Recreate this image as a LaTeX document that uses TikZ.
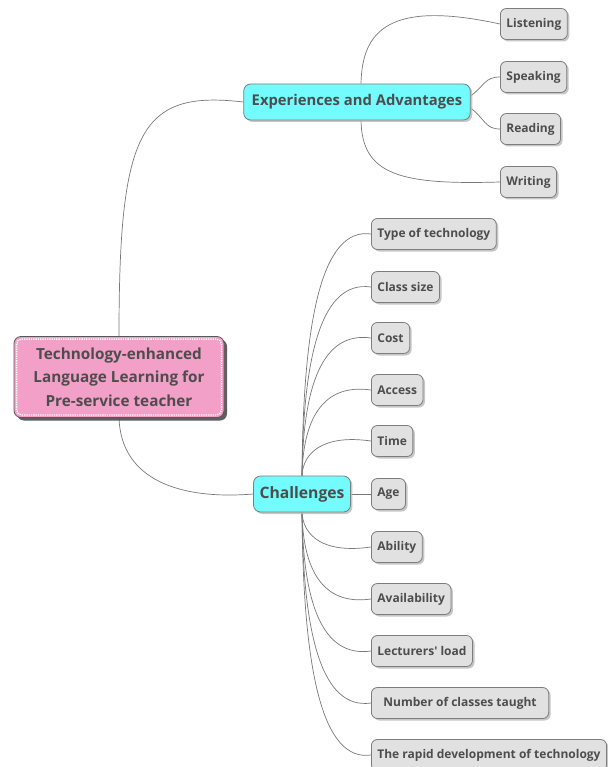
\documentclass[tikz,border=0pt]{standalone}
\usepackage{fontspec}
\setmainfont{Open Sans}[Ligatures=TeXOff]
\usetikzlibrary{shadows,backgrounds}
\definecolor{txt}{RGB}{77,77,77}
\definecolor{bord}{RGB}{125,125,125}
\definecolor{leaffill}{RGB}{225,225,225}
\definecolor{cyanfill}{RGB}{115,251,253}
\definecolor{pinkfill}{RGB}{242,160,200}
\definecolor{edgec}{RGB}{120,120,120}
\tikzset{
  leaf/.style={draw=bord, fill=leaffill, rounded corners=6pt, line width=0.8pt,
    minimum height=31pt, inner xsep=6pt, anchor=west, text=txt,
    font=\fontsize{12}{14}\selectfont\bfseries,
    drop shadow={shadow xshift=2pt, shadow yshift=-2pt, fill=gray!55, opacity=0.8}},
  topic/.style={draw=bord, fill=cyanfill, rounded corners=7pt, line width=0.8pt,
    minimum height=36pt, inner xsep=8pt, text=txt,
    drop shadow={shadow xshift=2pt, shadow yshift=-2pt, fill=gray!55, opacity=0.8}},
  rootst/.style={draw=bord!70!black, fill=pinkfill, rounded corners=7pt, line width=0.8pt,
    minimum width=210pt, minimum height=81pt, text=txt, align=center,
    font=\fontsize{15.3}{23.5}\selectfont\bfseries,
    drop shadow={shadow xshift=3pt, shadow yshift=-3pt, fill=black!70, opacity=0.9}},
  edge/.style={draw=edgec, line width=0.7pt}
}
\begin{document}
\begin{tikzpicture}[x=1pt,y=-1pt]
\useasboundingbox (0,0) rectangle (607,767);
\node[rootst] (root) at (119,377) {Technology-enhanced\\Language Learning for\\Pre-service teacher};
\draw[white, densely dotted, line width=1.3pt, rounded corners=5pt]
  ([shift={(3,3)}]root.north west) rectangle ([shift={(-3,-3)}]root.south east);
\node[topic, font=\fontsize{14.8}{17}\selectfont\bfseries] (exp) at (357,102) {Experiences and Advantages};
\node[topic, font=\fontsize{15.7}{18}\selectfont\bfseries, inner xsep=6pt] (chal) at (302,494) {Challenges};

\node[leaf] (l1) at (500,24) {Listening};
\node[leaf] (l2) at (500,77) {Speaking};
\node[leaf] (l3) at (500,129) {Reading};
\node[leaf] (l4) at (500,182) {Writing};

\node[leaf] (c1) at (371,234) {Type of technology};
\node[leaf] (c2) at (371,287) {Class size};
\node[leaf] (c3) at (371,338) {Cost};
\node[leaf] (c4) at (371,390) {Access};
\node[leaf] (c5) at (371,441) {Time};
\node[leaf] (c6) at (371,494) {Age};
\node[leaf] (c7) at (371,547) {Ability};
\node[leaf] (c8) at (371,599) {Availability};
\node[leaf] (c9) at (371,651) {Lecturers' load};
\node[leaf, inner xsep=12pt] (c10) at (371,703) {Number of classes taught};
\node[leaf] (c11) at (371,755) {The rapid development of technology};

\begin{scope}[on background layer]
\draw[edge] (root.north) .. controls (119,130) and (140,90) .. (exp.west);
\draw[edge] (root.south) .. controls (121,480) and (180,500) .. (chal.west);
\draw[edge] ([xshift=4pt]exp.north) .. controls (362,30) and (390,0) .. (l1.west);
\draw[edge] ([yshift=6pt]exp.east) .. controls (485,85) and (485,77) .. (l2.west);
\draw[edge] ([yshift=-6pt]exp.east) .. controls (485,119) and (485,129) .. (l3.west);
\draw[edge] ([xshift=4pt]exp.south) .. controls (362,175) and (400,185) .. (l4.west);
\foreach \n/\y in {c1/234,c2/287,c3/338,c4/390,c5/441}
  \draw[edge] (chal.north) .. controls (303,{\y+0.35*(477-\y)}) and (322,\y-7) .. (\n.west);
\draw[edge] (chal.east) -- (c6.west);
\foreach \n/\y in {c7/547,c8/599,c9/651,c10/703,c11/755}
  \draw[edge] (chal.south) .. controls (303,{\y-0.35*(\y-512)}) and (322,\y+7) .. (\n.west);
\end{scope}
\end{tikzpicture}
\end{document}
